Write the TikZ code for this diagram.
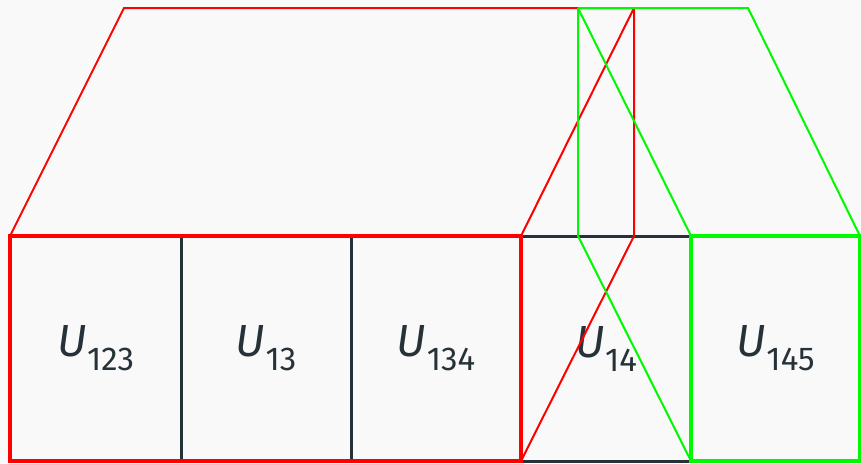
\documentclass[tikz,border=0pt]{standalone}
\usepackage{fontspec}
\setmainfont{Fira Sans}
\definecolor{bg}{HTML}{F9F9F9}
\definecolor{ink}{HTML}{263238}
\definecolor{myred}{HTML}{FF0000}
\definecolor{mygreen}{HTML}{00F800}
\newcommand{\ulab}[1]{\fontsize{45}{45}\selectfont\textit{U}\kern0.5pt\raisebox{-14pt}{\fontsize{33}{33}\selectfont #1}}
\begin{document}
\begin{tikzpicture}[x=1pt,y=-1pt,
  cell/.style={draw=ink, line width=3pt, minimum height=225pt, inner sep=0pt,
    outer sep=0pt, anchor=north west, text=ink},
  redthick/.style={draw=myred, line width=4pt},
  greenthick/.style={draw=mygreen, line width=4pt},
  redthin/.style={draw=myred, line width=2pt},
  greenthin/.style={draw=mygreen, line width=2pt}]
\fill[bg] (0,0) rectangle (861,463);
\useasboundingbox (0,0) rectangle (861,463);
\node[cell, minimum width=171pt] (b1) at (10,236) {\ulab{123}};
\node[cell, minimum width=170pt] (b2) at (181,236) {\ulab{13}};
\node[cell, minimum width=170pt] (b3) at (351,236) {\ulab{134}};
\node[cell, minimum width=170pt] (b4) at (521,236) {\ulab{14}};
\node[cell, minimum width=169pt] (b5) at (691,236) {\ulab{145}};
\coordinate (r1) at (124,8);
\coordinate (r2) at (634,8);
\coordinate (r3) at (634,236);
\coordinate (g1) at (578,8);
\coordinate (g2) at (748,8);
\coordinate (g3) at (578,236);
\draw[redthick] (b1.north west) rectangle (b3.south east);
\draw[greenthick] (b5.north west) rectangle (b5.south east);
\draw[redthin] (b1.north west) -- (r1) -- (r2) -- (r3) -- (b4.south west);
\draw[redthin] (b4.north west) -- (r2);
\draw[greenthin] (g1) -- (g2) -- (b5.north east);
\draw[greenthin] (g1) -- (g3) -- (b5.south west);
\draw[greenthin] (g1) -- (b5.north west);
\end{tikzpicture}
\end{document}
